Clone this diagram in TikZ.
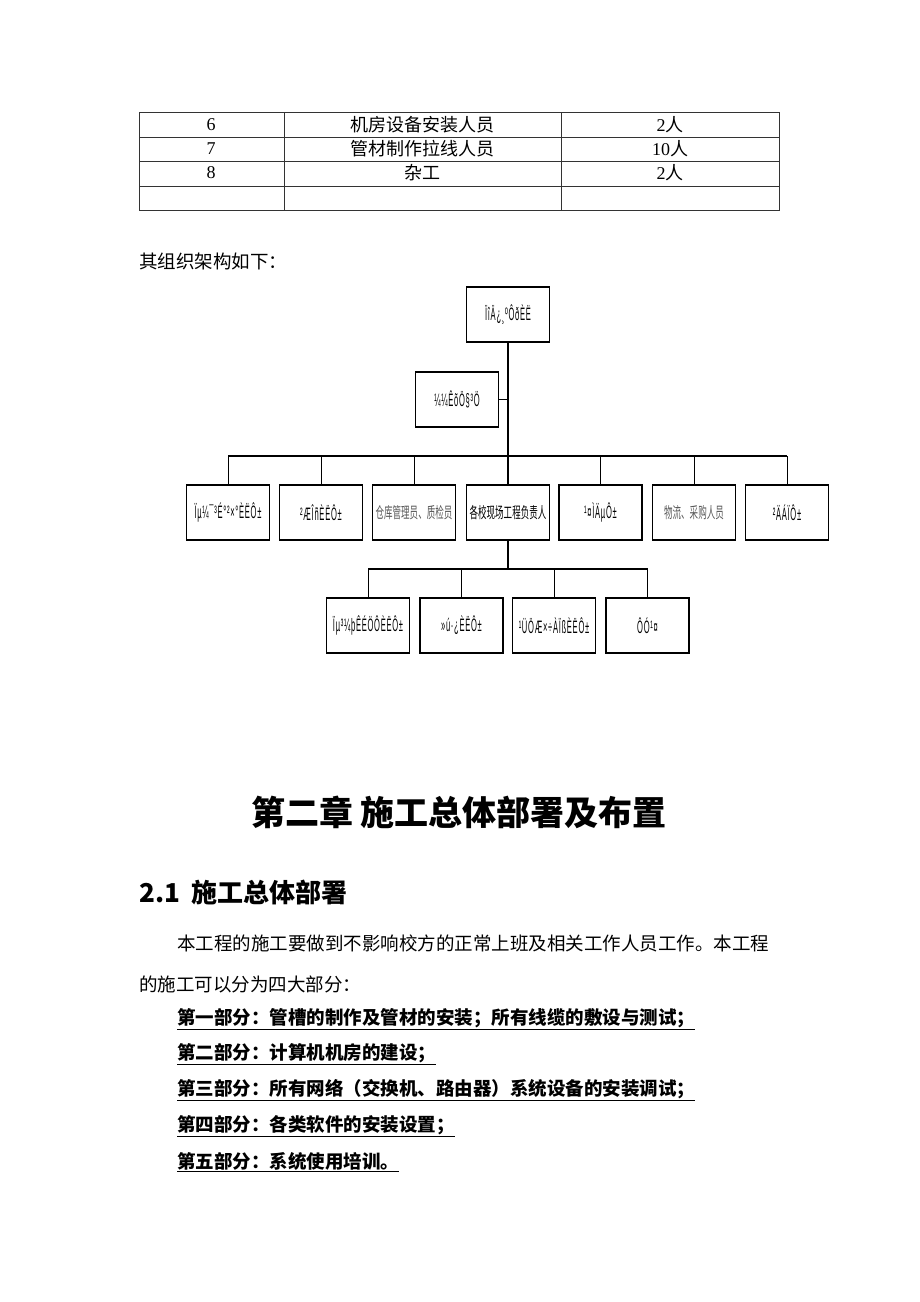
\documentclass[tikz,border=0pt]{standalone}
\usepackage{fontspec}
\setmainfont{Liberation Serif}
\newfontfamily\cjk{Noto Sans CJK SC}
\newfontfamily\cjknarrow[FakeStretch=0.55]{Noto Sans CJK SC}
\newfontfamily\garble[FakeStretch=0.42,LetterSpace=4]{Liberation Sans}
\usepackage{tikz}
\tikzset{orgbox/.style = {draw, line width=1.4pt, minimum width=83pt,
    minimum height=55pt, inner sep=0pt,
    font=\garble\fontsize{18}{20}\selectfont},
  cjkbox/.style = {orgbox, font=\cjknarrow\fontsize{15.5}{17}\selectfont},
  barline/.style = {line width=1.8pt},
  dropline/.style = {line width=1pt},
  tabline/.style = {line width=0.8pt, black!80},
  bodytext/.style = {anchor=west, inner sep=0pt,
    font=\cjk\fontsize{18.5}{20}\selectfont},
  celltext/.style = {inner sep=0pt, font=\fontsize{18}{20}\selectfont}}

\begin{document}
\begin{tikzpicture}[x=1pt,y=-1pt]
  \useasboundingbox[fill=white] (0,0) rectangle (920,1302);

  % staff table
  \draw[tabline] (139,112) rectangle (779,210);
  \draw[tabline] (139,137) -- (779,137);
  \draw[tabline] (139,161) -- (779,161);
  \draw[tabline] (139,186) -- (779,186);
  \draw[tabline] (284,112) -- (284,210);
  \draw[tabline] (561,112) -- (561,210);

  \node[celltext] (n6) at (211,125) {6};
  \node[celltext] (r6) at (422,125) {\cjk 机房设备安装人员};
  \node[celltext] (c6) at (670,125) {2{\cjk 人}};
  \node[celltext] (n7) at (211,149) {7};
  \node[celltext] (r7) at (422,149) {\cjk 管材制作拉线人员};
  \node[celltext] (c7) at (670,149) {10{\cjk 人}};
  \node[celltext] (n8) at (211,173) {8};
  \node[celltext] (r8) at (422,173) {\cjk 杂工};
  \node[celltext] (c8) at (670,173) {2{\cjk 人}};

  \node[bodytext] (intro) at (139,261) {其组织架构如下：};

  % organisation chart
  \node[orgbox] (P) at (508,314.5) {ÏîÄ¿¸ºÔðÈË};
  \node[orgbox] (T) at (457,399.5) {¼¼ÊõÖ§³Ö};

  \node[orgbox] (A1) at (228,512.5) {Ïµ¼¯³É°²×°ÈËÔ±};
  \node[orgbox] (A2) at (321,512.5) {²ÆÎñÈËÔ±};
  \node[cjkbox, text=black!65] (A3) at (414,512.5) {仓库管理员、质检员};
  \node[cjkbox] (A4) at (508,512.5) {各校现场工程负责人};
  \node[orgbox] (A5) at (600.5,512.5) {¹¤ÌÄµÔ±};
  \node[cjkbox, text=black!65] (A6) at (694,512.5) {物流、采购人员};
  \node[orgbox] (A7) at (787,512.5) {²ÄÁÏÔ±};

  \node[orgbox] (B1) at (368,625.5) {Ïµ³¼þÊÉÖÔÈËÔ±};
  \node[orgbox] (B2) at (461.5,625.5) {»ú·¿ÈËÔ±};
  \node[orgbox] (B3) at (554,625.5) {¹ÜÖÆ×÷À­ÏßÈËÔ±};
  \node[orgbox] (B4) at (647.5,625.5) {ÔÓ¹¤};

  \coordinate (barA) at (0,456);
  \coordinate (barB) at (0,569);

  \draw[barline] (P.south) -- (A4.north);
  \draw[barline] (T.east) -- (T.east -| P.south);
  \draw[barline] (A1.north |- barA) -- (A7.north |- barA);
  \draw[dropline] (A1.north) -- (A1.north |- barA);
  \draw[dropline] (A2.north) -- (A2.north |- barA);
  \draw[dropline] (A3.north) -- (A3.north |- barA);
  \draw[dropline] (A5.north) -- (A5.north |- barA);
  \draw[dropline] (A6.north) -- (A6.north |- barA);
  \draw[dropline] (A7.north) -- (A7.north |- barA);

  \draw[barline] (A4.south) -- (A4.south |- barB);
  \draw[barline] (B1.north |- barB) -- (B4.north |- barB);
  \draw[dropline] (B1.north) -- (B1.north |- barB);
  \draw[dropline] (B2.north) -- (B2.north |- barB);
  \draw[dropline] (B3.north) -- (B3.north |- barB);
  \draw[dropline] (B4.north) -- (B4.north |- barB);

  % chapter text
  \node[inner sep=0pt, font=\cjk\bfseries\fontsize{34}{36}\selectfont]
    (chap) at (459,812) {第二章 施工总体部署及布置};
  \node[anchor=west, inner sep=0pt, font=\cjk\bfseries\fontsize{26}{28}\selectfont]
    (sec) at (139,892) {2.1\hspace{12pt}施工总体部署};

  \node[bodytext] (p1) at (177,943) {本工程的施工要做到不影响校方的正常上班及相关工作人员工作。本工程};
  \node[bodytext] (p2) at (139,984) {的施工可以分为四大部分：};

  \node[bodytext, font=\cjk\bfseries\fontsize{18.5}{20}\selectfont] (s1) at (177,1019)
    {\underline{第一部分：管槽的制作及管材的安装；所有线缆的敷设与测试；}};
  \node[bodytext, font=\cjk\bfseries\fontsize{18.5}{20}\selectfont] (s2) at (177,1054)
    {\underline{第二部分：计算机机房的建设；}};
  \node[bodytext, font=\cjk\bfseries\fontsize{18.5}{20}\selectfont] (s3) at (177,1090)
    {\underline{第三部分：所有网络（交换机、路由器）系统设备的安装调试；}};
  \node[bodytext, font=\cjk\bfseries\fontsize{18.5}{20}\selectfont] (s4) at (177,1126)
    {\underline{第四部分：各类软件的安装设置；}};
  \node[bodytext, font=\cjk\bfseries\fontsize{18.5}{20}\selectfont] (s5) at (177,1162)
    {\underline{第五部分：系统使用培训。}};
\end{tikzpicture}
\end{document}
